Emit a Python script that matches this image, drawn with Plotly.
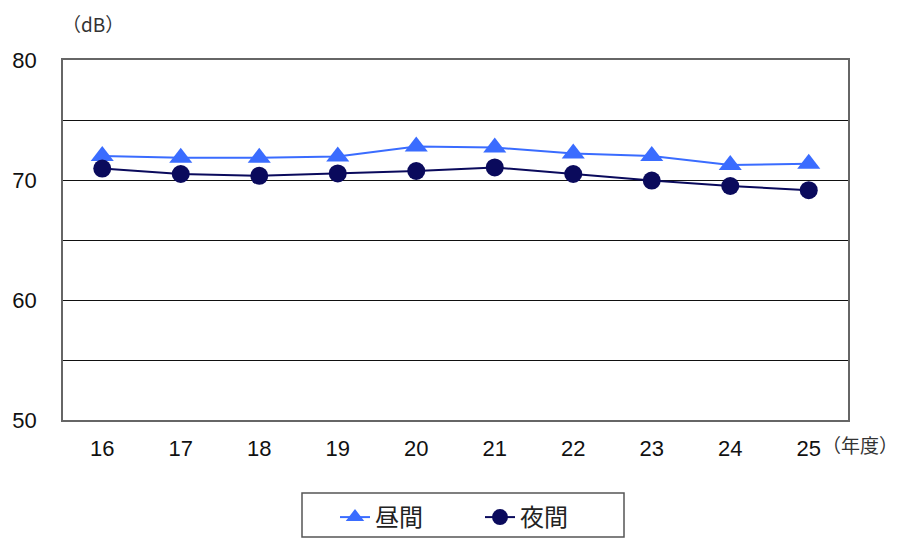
import plotly.graph_objects as go

years = ["16", "17", "18", "19", "20", "21", "22", "23", "24", "25"]
day = [72.0, 71.85, 71.85, 71.95, 72.8, 72.7, 72.2, 72.0, 71.25, 71.35]
night = [70.95, 70.5, 70.35, 70.55, 70.75, 71.05, 70.5, 69.95, 69.5, 69.15]
tick_vals = [50, 55, 60, 65, 70, 75, 80]
tick_text = ["50", "", "60", "", "70", "", "80"]

font = "Liberation Sans, Arial, Noto Sans CJK JP, sans-serif"
cjk = "Noto Sans CJK JP, sans-serif"

# page body has an 8px margin; figure is sized so the plot lands where the reference has it
W, H = 890, 532
L, R, T, B = 55, 50, 52, 120

fig = go.Figure()
fig.add_trace(go.Scatter(
    x=years, y=day, name="昼間", mode="lines+markers",
    line=dict(color="#3a6cff", width=2),
    marker=dict(symbol="triangle-up", size=20, color="#3a6cff"),
))
fig.add_trace(go.Scatter(
    x=years, y=night, name="夜間", mode="lines+markers",
    line=dict(color="#0a0a5c", width=2),
    marker=dict(symbol="circle", size=18, color="#0a0a5c"),
))

pw, ph = W - L - R, H - T - B
def px(xp): return (xp - 8 - L) / pw
def py(yp): return (H - B - (yp - 8)) / ph

fig.update_layout(
    width=W, height=H,
    margin=dict(l=L, r=R, t=T, b=B, autoexpand=False),
    paper_bgcolor="white", plot_bgcolor="white",
    font=dict(family=font, size=22, color="#111111"),
    showlegend=True,
    legend=dict(
        orientation="h", x=px(335), xanchor="left", y=py(495), yanchor="top",
        bgcolor="rgba(0,0,0,0)", borderwidth=0,
        font=dict(family=cjk, size=24, color="#222222"),
        entrywidth=100, entrywidthmode="pixels",
    ),
    xaxis=dict(
        type="category", showgrid=False, showline=True, mirror=True,
        linecolor="#666666", linewidth=1.5, ticks="",
        tickfont=dict(size=22), range=[-0.5, 9.5], ticklabelstandoff=8,
    ),
    yaxis=dict(
        range=[50, 80], tickvals=tick_vals, ticktext=tick_text,
        showgrid=True, gridcolor="#111111", gridwidth=1,
        showline=True, mirror=True, linecolor="#666666", linewidth=1.5,
        ticks="", tickfont=dict(size=22), zeroline=False, ticklabelstandoff=20,
    ),
    shapes=[dict(type="rect", xref="paper", yref="paper",
                 x0=px(302), x1=px(624), y0=py(493), y1=py(537),
                 line=dict(color="#555555", width=1.5), fillcolor="rgba(0,0,0,0)",
                 layer="below")],
)

fig.add_annotation(text="（dB）", x=px(60), y=py(8), xref="paper", yref="paper",
                   showarrow=False,
                   font=dict(family=cjk, size=19, color="#333333"))
fig.add_annotation(text="（年度）", x=px(820), y=py(460), xref="paper", yref="paper",
                   xanchor="left", showarrow=False,
                   font=dict(family=cjk, size=19, color="#333333"))

fig.write_html("out.html")
